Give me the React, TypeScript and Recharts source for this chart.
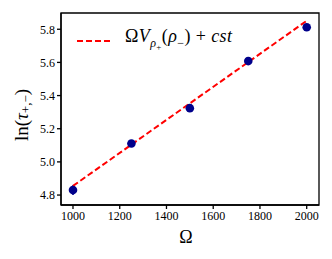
import React from "react";
import { ComposedChart, Scatter, Line, XAxis, YAxis, ErrorBar, ReferenceArea } from "recharts";

const omegas = [1000, 1250, 1500, 1750, 2000];
const lnTau = [4.83, 5.111, 5.324, 5.608, 5.812];
const errs = [0.03, 0.012, 0.01, 0.01, 0.01];
const fitOmega = [1000, 2000];
const fitValues = [4.855, 5.851];
const xTicks = [1000, 1200, 1400, 1600, 1800, 2000];
const yTicks = [4.8, 5.0, 5.2, 5.4, 5.6, 5.8];
const xDomain = [948.7, 2052.6];
const yDomain = [4.74, 5.898];

const points = omegas.map((x, i) => ({ x, y: lnTau[i], e: errs[i] }));
const fit = fitOmega.map((x, i) => ({ x, f: fitValues[i] }));

const FONT = "'Liberation Serif', 'DejaVu Serif', serif";

const YLabel = (props: any) => {
  const vb = props.viewBox || {};
  const cx = 21;
  const cy = vb.y + vb.height / 2 + 6;
  return (
    <text
      x={cx}
      y={cy}
      transform={`rotate(-90 ${cx} ${cy})`}
      textAnchor="middle"
      dominantBaseline="central"
      fontFamily={FONT}
      fontSize={19}
      fill="#000"
    >
      ln(<tspan fontStyle="italic">τ</tspan>
      <tspan fontSize={13} dy={4}>+,−</tspan>
      <tspan dy={-4}>)</tspan>
    </text>
  );
};

const XLabel = (props: any) => {
  const vb = props.viewBox || {};
  return (
    <text
      x={vb.x + vb.width / 2 - 4}
      y={243}
      textAnchor="middle"
      fontFamily={FONT}
      fontSize={18}
      fill="#000"
    >
      Ω
    </text>
  );
};

const LegendBox = () => (
  <div
    style={{
      position: "absolute",
      left: 76,
      top: 26,
      display: "flex",
      alignItems: "center",
      fontFamily: FONT,
      fontSize: 18,
      lineHeight: "20px",
      color: "#000",
      whiteSpace: "nowrap",
      letterSpacing: 0.4,
    }}
  >
    <svg width={36} height={10} style={{ marginRight: 13 }}>
      <line x1={1} y1={5} x2={35} y2={5} stroke="#ff0000" strokeWidth={2} strokeDasharray="6 3" />
    </svg>
    <span>
      Ω<i>V</i>
      <sub style={{ fontSize: 12 }}>
        <i>ρ</i>
        <sub style={{ fontSize: 9 }}>+</sub>
      </sub>
      (<i>ρ</i>
      <sub style={{ fontSize: 12 }}>−</sub>) + <i>cst</i>
    </span>
  </div>
);

export default function App() {
  return (
    <div style={{ position: "absolute", left: 0, top: 0, width: 332, height: 259, background: "#fff" }}>
      <ComposedChart width={332} height={259} margin={{ top: 13, right: 13, bottom: 0, left: 0 }}>
        <XAxis
          type="number"
          dataKey="x"
          domain={xDomain}
          ticks={xTicks}
          allowDataOverflow
          height={54}
          stroke="#000"
          strokeWidth={1.3}
          tickSize={4}
          tick={{ fill: "#000", fontFamily: FONT, fontSize: 12 }}
          tickMargin={2}
          label={<XLabel />}
        />
        <YAxis
          type="number"
          domain={yDomain}
          ticks={yTicks}
          allowDataOverflow
          width={61}
          stroke="#000"
          strokeWidth={1.3}
          tickSize={4}
          tickMargin={2}
          tick={{ fill: "#000", fontFamily: FONT, fontSize: 12 }}
          tickFormatter={(v: number) => v.toFixed(1)}
          label={<YLabel />}
        />
        <ReferenceArea
          x1={xDomain[0]}
          x2={xDomain[1]}
          y1={yDomain[0]}
          y2={yDomain[1]}
          fill="none"
          fillOpacity={0}
          stroke="#000"
          strokeWidth={1.3}
          strokeOpacity={1}
          ifOverflow="visible"
        />
        <Scatter data={points} dataKey="y" fill="#00008b" isAnimationActive={false} shape={(p: any) => <circle cx={p.cx} cy={p.cy} r={4.3} fill="#00008b" />}>
          <ErrorBar dataKey="e" direction="y" stroke="#00008b" strokeWidth={1.5} width={0} />
        </Scatter>
        <Line
          data={fit}
          dataKey="f"
          stroke="#ff0000"
          strokeWidth={2}
          strokeDasharray="6 3"
          dot={false}
          activeDot={false}
          isAnimationActive={false}
          type="linear"
        />
      </ComposedChart>
      <LegendBox />
    </div>
  );
}
